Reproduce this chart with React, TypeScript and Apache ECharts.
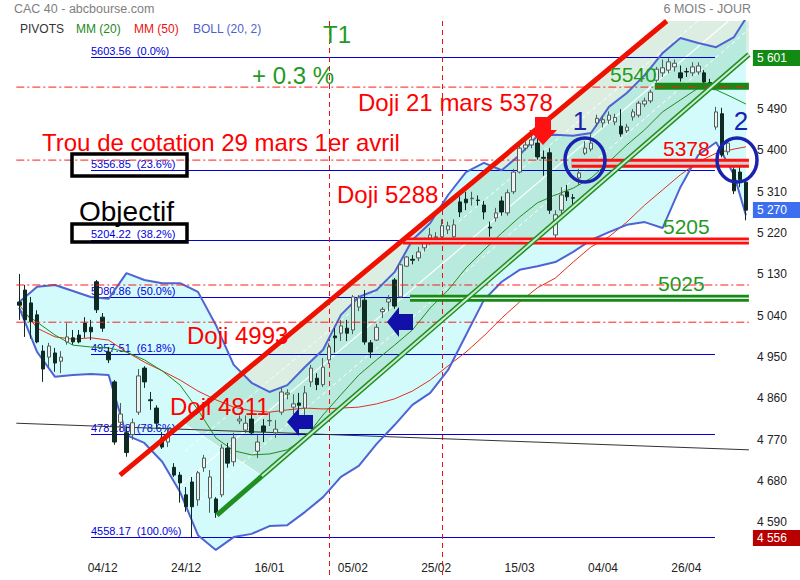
import React, { useEffect, useRef } from 'react';
import * as echarts from 'echarts';

// ---------- DATA ----------
const dates = ['14/11','15/11','16/11','19/11','20/11','21/11','22/11','23/11','26/11','27/11','28/11','29/11','30/11','03/12','04/12','05/12','06/12','07/12','10/12','11/12','12/12','13/12','14/12','17/12','18/12','19/12','20/12','21/12','24/12','27/12','28/12','31/12','02/01','03/01','04/01','07/01','08/01','09/01','10/01','11/01','14/01','15/01','16/01','17/01','18/01','21/01','22/01','23/01','24/01','25/01','28/01','29/01','30/01','31/01','01/02','04/02','05/02','06/02','07/02','08/02','11/02','12/02','13/02','14/02','15/02','18/02','19/02','20/02','21/02','22/02','25/02','26/02','27/02','28/02','01/03','04/03','05/03','06/03','07/03','08/03','11/03','12/03','13/03','14/03','15/03','18/03','19/03','20/03','21/03','22/03','25/03','26/03','27/03','28/03','29/03','01/04','02/04','03/04','04/04','05/04','08/04','09/04','10/04','11/04','12/04','15/04','16/04','17/04','18/04','23/04','24/04','25/04','26/04','29/04','30/04','02/05','03/05','06/05','07/05','08/05','09/05','10/05','13/05'];

// [open, close, low, high]
const candles = [
  [5070,5063,5031,5131],[5096,5031,4994,5107],[5068,5027,4990,5081],[5042,4983,4980,5052],[4963,4924,4896,4976],
  [4950,4974,4928,4981],[4959,4937,4918,4970],[4941,4950,4915,4963],[4983,4994,4977,5024],[4992,4983,4977,5009],
  [4998,4983,4980,5009],[5024,5005,4992,5037],[5015,5005,4987,5031],[5114,5053,5046,5118],[5037,5013,5005,5046],
  [4961,4944,4937,4972],[4896,4765,4759,4900],[4808,4826,4790,4850],[4785,4742,4733,4798],[4781,4807,4770,4816],
  [4830,4909,4824,4924],[4926,4896,4883,4930],[4857,4855,4835,4874],[4839,4806,4795,4845],[4774,4754,4750,4787],
  [4765,4783,4754,4793],[4710,4693,4689,4719],[4693,4676,4633,4700],[4650,4624,4613,4667],[4678,4624,4556,4689],
  [4639,4698,4626,4702],[4709,4730,4700,4737],[4643,4689,4611,4704],[4641,4611,4600,4645],[4650,4752,4645,4760],
  [4752,4719,4709,4763],[4722,4774,4712,4785],[4811,4815,4804,4823],[4791,4806,4785,4823],[4815,4785,4780,4828],
  [4745,4765,4730,4780],[4800,4788,4765,4815],[4811,4812,4800,4830],[4785,4793,4774,4813],[4830,4874,4824,4883],
  [4869,4872,4858,4880],[4841,4848,4817,4869],[4850,4845,4826,4872],[4839,4872,4824,4887],[4896,4926,4885,4933],
  [4904,4890,4878,4915],[4890,4928,4885,4948],[4944,4972,4935,4980],[4996,4992,4960,5013],[5002,5018,4985,5031],
  [5013,5002,4985,5031],[5009,5081,5000,5085],[5059,5079,5050,5085],[5074,4983,4977,5096],[4981,4961,4948,4987],
  [4987,5015,4985,5022],[5049,5054,5035,5059],[5070,5077,5050,5085],[5118,5061,5055,5122],[5081,5151,5078,5153],
  [5148,5168,5146,5170],[5163,5161,5152,5172],[5166,5179,5159,5190],[5188,5202,5180,5210],[5209,5216,5194,5231],
  [5210,5212,5196,5222],[5212,5236,5200,5250],[5227,5236,5218,5245],[5212,5238,5205,5250],[5288,5266,5255,5300],
  [5294,5286,5270,5310],[5295,5296,5280,5310],[5292,5291,5280,5302],[5281,5266,5250,5290],[5233,5231,5212,5245],
  [5253,5264,5245,5275],[5290,5266,5258,5300],[5264,5308,5258,5315],[5310,5353,5305,5360],[5353,5405,5350,5410],
  [5405,5412,5400,5420],[5412,5423,5405,5435],[5416,5386,5380,5425],[5385,5383,5345,5400],[5395,5270,5262,5405],
  [5216,5260,5200,5270],[5270,5303,5260,5320],[5310,5299,5290,5325],[5297,5296,5280,5305],[5340,5351,5325,5360],
  [5394,5405,5390,5420],[5403,5416,5398,5438],[5460,5470,5452,5478],[5460,5467,5450,5476],[5466,5477,5458,5485],
  [5462,5472,5455,5480],[5453,5436,5430,5490],[5443,5451,5438,5458],[5473,5484,5465,5490],[5477,5503,5472,5508],
  [5501,5508,5495,5515],[5508,5527,5503,5532],[5553,5577,5548,5582],[5569,5580,5560,5598],[5575,5593,5568,5601],
  [5582,5590,5572,5598],[5569,5558,5550,5585],[5572,5571,5560,5580],[5569,5582,5562,5592],[5571,5584,5565,5592],
  [5569,5549,5543,5575],[5548,5546,5538,5556],[5451,5484,5445,5495],[5480,5390,5385,5493],[5397,5416,5390,5425],
  [5358,5312,5305,5365],[5353,5336,5320,5375],[5331,5270,5248,5335],
];

// indicator readings, taken every 3rd session (index into dates)
const sampleAt = [0,3,6,9,12,15,18,21,24,27,30,33,36,39,42,45,48,51,54,57,60,63,66,69,72,75,78,81,84,87,90,93,96,99,102,105,108,111,114,117,120,122];
const bollUpper = [5070,5103,5107,5094,5081,5077,5133,5118,5111,5111,5092,5020,4933,4894,4874,4889,4929,4966,5042,5081,5096,5135,5205,5242,5303,5353,5373,5357,5390,5432,5434,5432,5438,5495,5525,5564,5612,5645,5634,5625,5647,5688];
const bollLower = [5057,4961,4907,4911,4913,4911,4780,4763,4722,4656,4562,4530,4558,4565,4582,4584,4613,4645,4689,4713,4761,4802,4846,4872,4922,4998,5074,5114,5140,5148,5157,5179,5205,5222,5238,5244,5231,5320,5390,5418,5347,5259];
const mm20 = [5053,5026,4998,4976,4972,4970,4961,4944,4920,4889,4835,4774,4746,4737,4739,4748,4774,4824,4868,4911,4944,4976,5009,5057,5096,5144,5183,5220,5255,5286,5303,5318,5340,5375,5412,5445,5484,5510,5536,5532,5514,5501];
const mm50 = [5064,5013,4994,4989,4992,4987,4961,4939,4920,4900,4876,4857,4841,4833,4830,4835,4839,4837,4839,4841,4848,4859,4876,4900,4931,4961,4996,5035,5070,5101,5122,5157,5190,5212,5244,5281,5314,5347,5375,5394,5403,5408];

const fibValues = [5603.56, 5356.85, 5204.22, 5080.86, 4957.51, 4781.88, 4558.17];
const fibRatios = ['0.0%', '23.6%', '38.2%', '50.0%', '61.8%', '78.6%', '100.0%'];
const fibSpan = [12.04, 116.8];

const pivotLevels = [5538, 5379, 5107, 5026];
const zoneLevels = [5540, 5372, 5203, 5078];
const zoneStarts = [106.7, 92.75, 64.4, 65.6];

const priceTicks = [4590, 4680, 4770, 4860, 4950, 5040, 5130, 5220, 5310, 5400, 5490];
const periodHigh = 5601;
const lastClose = 5270;
const periodLow = 4556;

const upperTrend = [[16.91, 4693], [108.7, 5682]];
const lowerTrendStart = [[33.19, 4606], [40.75, 4691]];
const lowerTrend = [[40.75, 4691], [122.5, 5609]];
const channelMid = [[26.98, 4669], [119.07, 5682]];
const channelQ1 = [[27.82, 4745], [113.95, 5682]];
const channelQ3 = [[30.34, 4640], [122.5, 5664]];
const channelEdge = [[27.49, 4807], [40.75, 4691]];
const channelArea = [[27.49, 4807], [108.7, 5682], [122.5, 5682], [122.5, 5609], [40.75, 4691]];
const supportLine = [[-0.5, 4806], [122.5, 4748]];
const markerDays = [52, 71];

// ---------- CHART ----------
const FONT = 'Arial, "Liberation Sans", Helvetica, sans-serif';
const Y_MIN = 4516.79;
const Y_MAX = 5681.96;
const X_MAX = 122.5;

function fmt(v: number) {
  return String(Math.round(v)).replace(/\B(?=(\d{3})+(?!\d))/g, ' ');
}

function lineSeries(data: any[], color: string, width: number, type: any = 'solid', z = 2, clip = true) {
  return {
    type: 'line', xAxisIndex: 1, yAxisIndex: 0, data, symbol: 'none', silent: true, z, clip,
    lineStyle: { color, width, type },
  };
}

function txt(text: string, x: number, y: number, color: string, size: number, align = 'left') {
  return {
    type: 'text', x, y, z: 100, silent: true,
    style: {
      text, fill: color, fontSize: size, fontFamily: FONT,
      align, verticalAlign: 'middle', textAlign: align, textVerticalAlign: 'middle',
    },
  };
}

export default function App() {
  const ref = useRef<HTMLDivElement>(null);

  useEffect(() => {
    const chart = echarts.init(ref.current!, null, { renderer: 'svg' });
    const pts = (arr: number[]) => sampleAt.map((k, i) => [k, arr[i]]);

    const zoneStyles = [
      { outer: '#168a16', outerW: 7, inner: null, innerW: 0 },
      { outer: '#ff1010', outerW: 9, inner: '#d0d0d0', innerW: 3 },
      { outer: '#ff1010', outerW: 7, inner: '#ffe0e0', innerW: 1.5 },
      { outer: '#168a16', outerW: 7, inner: '#e6f6e6', innerW: 1.5 },
    ];
    const zoneSeries: any[] = [];
    zoneLevels.forEach((lv, i) => {
      const d = [[zoneStarts[i], lv], [X_MAX, lv]];
      zoneSeries.push(lineSeries(d, zoneStyles[i].outer, zoneStyles[i].outerW, 'solid', 5, false));
      if (zoneStyles[i].inner) zoneSeries.push(lineSeries(d, zoneStyles[i].inner as string, zoneStyles[i].innerW, 'solid', 5, false));
    });
    const pivotSeries = pivotLevels.map((lv) => ({
      ...lineSeries([[-0.5, lv], [X_MAX, lv]], '#ff1a1a', 1, [8, 3, 2, 3], 6, false),
      itemStyle: { color: '#ff1a1a' },
    }));

    const option: any = {
      animation: false,
      backgroundColor: '#ffffff',
      grid: { left: 16.3, right: 51.1, top: 21, bottom: 24, containLabel: false, outerBoundsMode: 'none' },
      xAxis: [
        {
          type: 'category', data: dates, boundaryGap: true,
          axisLine: { show: false }, axisTick: { show: false }, splitLine: { show: false },
          axisLabel: {
            interval: (i: number) => i > 0 && i % 14 === 0,
            color: '#222', fontSize: 12, fontFamily: FONT, margin: 6,
          },
        },
        { type: 'value', min: -0.5, max: X_MAX, show: false, splitLine: { show: false } },
      ],
      yAxis: [
        {
          type: 'value', position: 'right', min: Y_MIN, max: Y_MAX, scale: true,
          splitLine: { show: false }, axisLine: { show: false }, axisTick: { show: false },
          axisLabel: { customValues: priceTicks, formatter: (v: number) => fmt(v), color: '#222', fontSize: 12, fontFamily: FONT, margin: 8 },
        },
      ],
      series: [
        // Bollinger fill
        {
          type: 'custom', xAxisIndex: 1, yAxisIndex: 0, silent: true, clip: true, z: 1, data: [[0, 5000]],
          renderItem: (_p: any, api: any) => {
            const up = sampleAt.map((k, i) => api.coord([k, bollUpper[i]]));
            const lo = sampleAt.map((k, i) => api.coord([k, bollLower[i]])).reverse();
            return { type: 'polygon', shape: { points: up.concat(lo) }, style: { fill: '#d3fbfb' } };
          },
        },
        // channel fill
        {
          type: 'custom', xAxisIndex: 1, yAxisIndex: 0, silent: true, clip: true, z: 1, data: [[0, 5000]],
          renderItem: (_p: any, api: any) => ({
            type: 'polygon',
            shape: { points: channelArea.map((p) => api.coord(p)) },
            style: { fill: 'rgba(60,160,90,0.18)' },
          }),
        },
        lineSeries(channelEdge, '#ffffff', 1, 'solid', 1),
        lineSeries(channelMid, '#ffffff', 1.2, 'solid', 1),
        lineSeries(channelQ1, '#ffffff', 1, [4, 3], 1),
        lineSeries(channelQ3, '#ffffff', 1, [4, 3], 1),
        // fib lines + labels
        {
          type: 'custom', xAxisIndex: 1, yAxisIndex: 0, silent: true, clip: false, z: 2,
          data: fibValues.map((v) => [0, v]),
          renderItem: (p: any, api: any) => {
            const v = fibValues[p.dataIndex];
            const a = api.coord([fibSpan[0], v]);
            const b = api.coord([fibSpan[1], v]);
            const y = Math.round(a[1]) + 0.5;
            return {
              type: 'group',
              children: [
                { type: 'line', shape: { x1: a[0], y1: y, x2: b[0], y2: y }, style: { stroke: '#0000dd', lineWidth: 1 } },
                {
                  type: 'text', x: a[0], y: y - 1,
                  style: {
                    text: v.toFixed(2) + '  (' + fibRatios[p.dataIndex] + ')', fill: '#0000dd', fontSize: 11, fontFamily: FONT,
                    align: 'left', verticalAlign: 'bottom', textAlign: 'left', textVerticalAlign: 'bottom',
                  },
                },
              ],
            };
          },
        },
        lineSeries(supportLine, '#333333', 1, 'solid', 2),
        // vertical dashed markers
        {
          type: 'custom', xAxisIndex: 1, yAxisIndex: 0, silent: true, clip: false, z: 2,
          data: markerDays.map((k) => [k, Y_MAX]),
          renderItem: (p: any, api: any) => {
            const k = markerDays[p.dataIndex];
            const a = api.coord([k, Y_MAX]);
            const b = api.coord([k, 4471]);
            const x = Math.round(a[0]) + 0.5;
            return { type: 'line', shape: { x1: x, y1: a[1], x2: x, y2: b[1] }, style: { stroke: '#ee1111', lineWidth: 1, lineDash: [5, 4] } };
          },
        },
        lineSeries(pts(mm50), '#e0301e', 1, 'solid', 2),
        lineSeries(pts(mm20), '#1e8c1e', 1, 'solid', 2),
        lineSeries(pts(bollUpper), '#4f63d2', 2, 'solid', 2),
        lineSeries(pts(bollLower), '#4f63d2', 2, 'solid', 2),
        {
          type: 'candlestick', xAxisIndex: 0, yAxisIndex: 0, data: candles, barWidth: 4, silent: true, z: 3,
          itemStyle: { color: '#eef3f1', color0: '#0f2a22', borderColor: '#4f5d59', borderColor0: '#0f2a22', borderWidth: 1 },
        },
        ...zoneSeries,
        ...pivotSeries,
        lineSeries(upperTrend, '#ee1100', 5, 'solid', 7),
        lineSeries(lowerTrendStart, '#1f8f1f', 5, 'solid', 7),
        lineSeries(lowerTrend, '#1f8f1f', 5, 'solid', 7),
        lineSeries(lowerTrend, '#cdebd6', 2, 'solid', 7),
        // right value boxes
        {
          type: 'custom', xAxisIndex: 1, yAxisIndex: 0, silent: true, clip: false, z: 8,
          data: [[X_MAX, periodHigh], [X_MAX, lastClose], [X_MAX, periodLow]],
          renderItem: (p: any, api: any) => {
            const vals = [periodHigh, lastClose, periodLow];
            const cols = ['#138a13', '#3d6ef0', '#b80000'];
            const v = vals[p.dataIndex];
            const c = api.coord([X_MAX, v]);
            const y = Math.round(c[1]);
            return {
              type: 'group',
              children: [
                { type: 'rect', shape: { x: c[0] + 4, y: y - 8, width: 60, height: 16 }, style: { fill: cols[p.dataIndex] } },
                {
                  type: 'text', x: c[0] + 8, y: y,
                  style: { text: fmt(v), fill: '#ffffff', fontSize: 12, fontFamily: FONT, align: 'left', verticalAlign: 'middle', textAlign: 'left', textVerticalAlign: 'middle' },
                },
              ],
            };
          },
        },
      ],
      graphic: [
        txt('CAC 40 - abcbourse.com', 14, 9, '#808080', 12.5),
        txt('6 MOIS - JOUR', 751, 9, '#808080', 12.5, 'right'),
        txt('PIVOTS', 20, 29, '#333333', 12),
        txt('MM (20)', 76, 29, '#1b8a1b', 12),
        txt('MM (50)', 134, 29, '#ee1111', 12),
        txt('BOLL (20, 2)', 193, 29, '#4f5fd0', 12),
        txt('T1', 337, 34, '#1f9a1f', 24, 'center'),
        txt('+ 0.3 %', 252, 75, '#1f9a1f', 24),
        txt('5540', 610, 74, '#1f9a1f', 21),
        txt('Doji 21 mars 5378', 358, 102, '#ff0000', 24),
        txt('1', 580, 121, '#1a22b0', 26, 'center'),
        txt('2', 741, 121, '#1a22b0', 26, 'center'),
        txt('Trou de cotation 29 mars 1er avril', 42, 142, '#ff0000', 24),
        txt('5378', 663, 148, '#ff0000', 21),
        txt('Doji 5288', 337, 194, '#ff0000', 24),
        txt('Objectif', 79, 211, '#000000', 28),
        txt('5205', 663, 226, '#1f9a1f', 21),
        txt('5025', 658, 283, '#1f9a1f', 21),
        txt('Doji 4993', 187, 335, '#ff0000', 24),
        txt('Doji 4811', 170, 406, '#ff0000', 24),
        { type: 'ellipse', z: 100, silent: true, shape: { cx: 585, cy: 160, rx: 20, ry: 22 }, style: { fill: 'none', stroke: '#1a22b0', lineWidth: 3.5 } },
        { type: 'ellipse', z: 100, silent: true, shape: { cx: 737, cy: 160, rx: 20, ry: 22 }, style: { fill: 'none', stroke: '#1a22b0', lineWidth: 3.5 } },
        { type: 'polygon', z: 100, silent: true, shape: { points: [[387, 322], [399, 307], [399, 314], [413, 314], [413, 330], [399, 330], [399, 337]] }, style: { fill: '#1111aa' } },
        { type: 'polygon', z: 100, silent: true, shape: { points: [[287, 422], [299, 408], [299, 415], [313, 415], [313, 429], [299, 429], [299, 436]] }, style: { fill: '#1111aa' } },
        { type: 'polygon', z: 100, silent: true, shape: { points: [[535, 117], [551, 117], [551, 130], [557, 130], [543, 145], [529, 130], [535, 130]] }, style: { fill: '#ff1111' } },
        { type: 'rect', z: 100, silent: true, shape: { x: 72, y: 154, width: 115, height: 22 }, style: { fill: 'none', stroke: '#000000', lineWidth: 3.5 } },
        { type: 'rect', z: 100, silent: true, shape: { x: 72, y: 224, width: 115, height: 18 }, style: { fill: 'none', stroke: '#000000', lineWidth: 3.5 } },
      ],
    };

    chart.setOption(option);
    return () => chart.dispose();
  }, []);

  return <div ref={ref} style={{ position: 'fixed', left: 0, top: 0, width: 800, height: 580 }} />;
}
